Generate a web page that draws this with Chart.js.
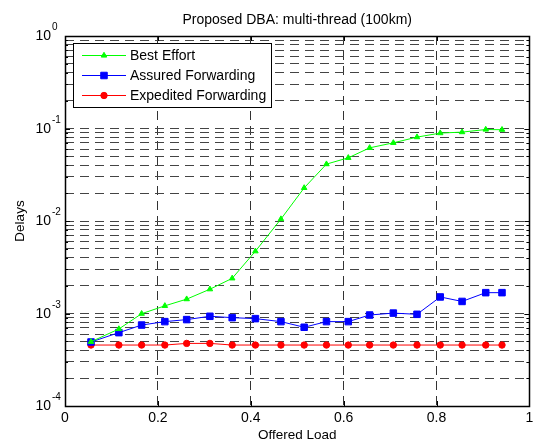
<!DOCTYPE html>
<html>
<head>
<meta charset="utf-8">
<title>Proposed DBA: multi-thread (100km)</title>
<script src="https://cdn.jsdelivr.net/npm/chart.js@4.4.0/dist/chart.umd.min.js"></script>
<style>
  html, body { margin: 0; padding: 0; background: #fff; }
</style>
</head>
<body>
<canvas id="delayChart" width="535" height="441"></canvas>
<script>
// offered load (x) and delay per traffic class (y, log scale)
const load = [0.056, 0.116, 0.165, 0.215, 0.262, 0.312, 0.360, 0.410, 0.465, 0.515,
              0.563, 0.610, 0.656, 0.707, 0.758, 0.808, 0.855, 0.906, 0.941];
const bestEffort = [4.95e-4, 6.8e-4, 9.95e-4, 1.21e-3, 1.43e-3, 1.83e-3, 2.40e-3, 4.71e-3, 1.05e-2, 2.28e-2,
                    4.12e-2, 4.82e-2, 6.18e-2, 7.0e-2, 8.07e-2, 8.92e-2, 9.14e-2, 9.75e-2, 9.7e-2];
const assured = [4.92e-4, 6.21e-4, 7.5e-4, 8.17e-4, 8.59e-4, 9.33e-4, 9.02e-4, 8.8e-4, 8.17e-4, 7.1e-4,
                 8.17e-4, 8.17e-4, 9.63e-4, 1.01e-3, 9.8e-4, 1.51e-3, 1.35e-3, 1.68e-3, 1.68e-3];
const expedited = [4.56e-4, 4.56e-4, 4.56e-4, 4.56e-4, 4.75e-4, 4.75e-4, 4.56e-4, 4.56e-4, 4.56e-4, 4.56e-4,
                   4.56e-4, 4.56e-4, 4.56e-4, 4.56e-4, 4.56e-4, 4.56e-4, 4.56e-4, 4.56e-4, 4.56e-4];
const seriesNames = ['Best Effort', 'Assured Forwarding', 'Expedited Forwarding'];
const xTicks = [0, 0.2, 0.4, 0.6, 0.8, 1];
const yExponents = [-4, -3, -2, -1, 0];

const FONT = 'Liberation Sans, Arial, sans-serif';
Chart.defaults.font.family = FONT;
Chart.defaults.color = '#000';

// decade + minor grid positions for the log axis
const yGrid = [];
yExponents.forEach(e => {
  if (e === 0) { yGrid.push(1); return; }
  for (let m = 1; m <= 9; m++) yGrid.push(m * Math.pow(10, e));
});

const noEdge = (c, lo, hi, col) => {
  if (!c.tick) return col;
  const v = c.tick.value;
  return (Math.abs(v - lo) < lo * 1e-6 + 1e-12 || Math.abs(v - hi) < 1e-9) ? 'rgba(0,0,0,0)' : col;
};

function makeSet(label, values, color, style, radius) {
  return {
    label,
    data: values.map((v, i) => ({ x: load[i], y: v })),
    borderColor: color,
    backgroundColor: color,
    borderWidth: 1,
    pointStyle: style,
    pointRadius: radius,
    pointBorderWidth: 1,
    pointHoverRadius: radius,
    tension: 0
  };
}

const datasets = [
  makeSet(seriesNames[0], bestEffort, '#00ff00', 'triangle', 3.2),
  makeSet(seriesNames[1], assured, '#0000ff', 'rect', 4.6),
  makeSet(seriesNames[2], expedited, '#ff0000', 'circle', 3.2)
];

// y tick labels as 10^e with raised exponent
const powerLabels = {
  id: 'powerLabels',
  afterDraw(chart) {
    const ctx = chart.ctx, ys = chart.scales.y;
    ctx.save();
    ctx.fillStyle = '#000';
    yExponents.forEach(e => {
      const y = ys.getPixelForValue(Math.pow(10, e));
      ctx.font = '14px ' + FONT;
      ctx.textAlign = 'right';
      ctx.textBaseline = 'middle';
      ctx.fillText('10', 51, y + 0.5);
      ctx.font = '10px ' + FONT;
      ctx.textAlign = 'left';
      ctx.fillText(String(e), 52, y - 8.5);
    });
    ctx.restore();
  }
};

// box round the axes plus inward tick marks
const frame = {
  id: 'frame',
  afterDatasetsDraw(chart) {
    const ctx = chart.ctx, a = chart.chartArea;
    const xs = chart.scales.x, ys = chart.scales.y;
    ctx.save();
    ctx.strokeStyle = '#000';
    ctx.lineWidth = 1;
    ctx.beginPath();
    xTicks.forEach(v => {
      const x = Math.round(xs.getPixelForValue(v)) + 0.5;
      ctx.moveTo(x, a.bottom); ctx.lineTo(x, a.bottom - 5);
      ctx.moveTo(x, a.top); ctx.lineTo(x, a.top + 5);
    });
    yGrid.forEach(v => {
      const y = Math.round(ys.getPixelForValue(v)) + 0.5;
      const len = Number.isInteger(Math.log10(v)) ? 5 : 3;
      ctx.moveTo(a.left, y); ctx.lineTo(a.left + len, y);
      ctx.moveTo(a.right, y); ctx.lineTo(a.right - len, y);
    });
    ctx.stroke();
    ctx.lineWidth = 1.5;
    ctx.strokeRect(Math.round(a.left) + 0.5, Math.round(a.top) + 0.5,
                   Math.round(a.right - a.left), Math.round(a.bottom - a.top));
    ctx.restore();
  }
};

// legend box in the upper left of the axes
const boxLegend = {
  id: 'boxLegend',
  afterDraw(chart) {
    const ctx = chart.ctx;
    const bx = 73.5, by = 43.5, bw = 198, bh = 64;
    ctx.save();
    ctx.fillStyle = '#fff';
    ctx.fillRect(bx, by, bw, bh);
    ctx.strokeStyle = '#000';
    ctx.lineWidth = 1;
    ctx.strokeRect(bx, by, bw, bh);
    chart.data.datasets.forEach((ds, i) => {
      const y = 55.5 + i * 20;
      ctx.strokeStyle = ds.borderColor;
      ctx.fillStyle = ds.backgroundColor;
      ctx.lineWidth = 1;
      ctx.beginPath();
      ctx.moveTo(82, y); ctx.lineTo(126, y);
      ctx.stroke();
      Chart.helpers.drawPoint(ctx, {
        pointStyle: ds.pointStyle, radius: ds.pointRadius, rotation: 0, borderWidth: 1
      }, 104, y);
      ctx.fillStyle = '#000';
      ctx.font = '14px ' + FONT;
      ctx.textAlign = 'left';
      ctx.textBaseline = 'middle';
      ctx.fillText(ds.label, 130, y + 0.5);
    });
    ctx.restore();
  }
};

new Chart(document.getElementById('delayChart'), {
  type: 'line',
  data: { datasets },
  plugins: [powerLabels, frame, boxLegend],
  options: {
    responsive: false,
    animation: false,
    layout: { padding: { left: 0, right: 2, top: 0, bottom: 0 } },
    plugins: {
      legend: { display: false },
      tooltip: { enabled: false },
      title: {
        display: true,
        text: 'Proposed DBA: multi-thread (100km)',
        fullSize: false,
        color: '#000',
        font: { size: 14, weight: 'normal' },
        padding: { top: 11.5, bottom: 7.7 }
      }
    },
    scales: {
      x: {
        type: 'linear',
        min: 0,
        max: 1,
        afterBuildTicks: s => { s.ticks = xTicks.map(v => ({ value: v })); },
        afterFit: s => { s.height = 35; s.paddingLeft = 0; s.paddingRight = 0; },
        ticks: {
          color: '#000',
          font: { size: 14 },
          padding: 4,
          maxRotation: 0,
          autoSkip: false,
          callback: v => String(v)
        },
        grid: {
          color: c => noEdge(c, 0, 1, '#333'),
          lineWidth: 1,
          drawTicks: false
        },
        border: { display: false, dash: [9, 6] },
        title: {
          display: true,
          text: 'Offered Load',
          color: '#000',
          font: { size: 13.5 },
          padding: { top: 0, bottom: -2.4 }
        }
      },
      y: {
        type: 'logarithmic',
        min: 1e-4,
        max: 1,
        afterBuildTicks: s => { s.ticks = yGrid.map(v => ({ value: v })); },
        afterFit: s => { s.width = 65; s.paddingTop = 0; s.paddingBottom = 0; },
        ticks: { display: false },
        grid: {
          color: c => noEdge(c, 1e-4, 1, '#444'),
          lineWidth: 1,
          drawTicks: false
        },
        border: { display: false, dash: [9, 6] },
        title: {
          display: true,
          text: 'Delays',
          color: '#000',
          font: { size: 13.5 },
          padding: { top: 12.5, bottom: 0 }
        }
      }
    }
  }
});
</script>
</body>
</html>
